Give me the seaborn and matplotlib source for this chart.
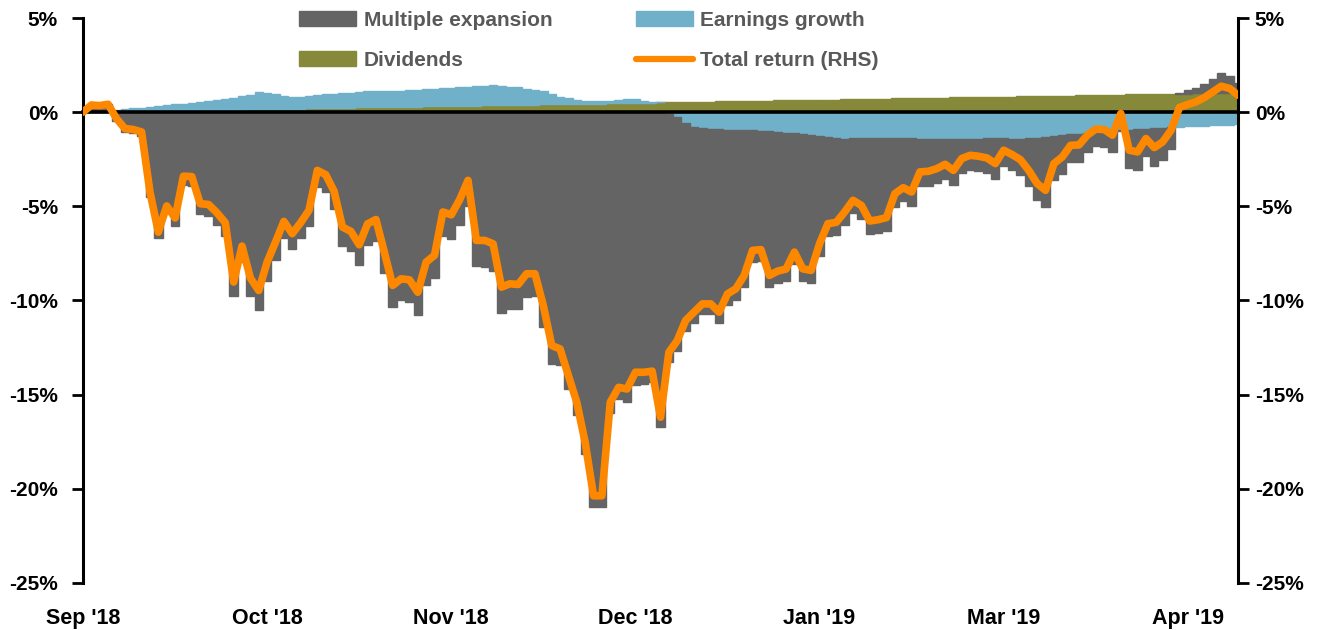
import numpy as np
import matplotlib
matplotlib.use("Agg")
import matplotlib.pyplot as plt
import seaborn as sns
from matplotlib.patches import Patch
from matplotlib.lines import Line2D

# total return, % (one value per trading day)
total_return = [
    0.00, 0.38, 0.35, 0.42, -0.34, -0.87, -0.92, -1.05, -4.24, -6.37,
    -4.98, -5.62, -3.40, -3.42, -4.86, -4.90, -5.34, -5.87, -9.02, -7.11,
    -8.81, -9.47, -7.96, -6.90, -5.80, -6.45, -5.87, -5.21, -3.09, -3.32,
    -4.20, -6.10, -6.33, -7.04, -5.93, -5.70, -7.43, -9.20, -8.85, -8.90,
    -9.56, -7.96, -7.60, -5.30, -5.45, -4.65, -3.62, -6.81, -6.81, -6.99,
    -9.29, -9.11, -9.15, -8.58, -8.58, -10.27, -12.39, -12.57, -13.99, -15.41,
    -17.54, -20.37, -20.37, -15.40, -14.61, -14.70, -13.81, -13.81, -13.75, -16.20,
    -12.75, -12.13, -11.06, -10.62, -10.18, -10.18, -10.62, -9.65, -9.38, -8.67,
    -7.34, -7.30, -8.67, -8.44, -8.33, -7.43, -8.32, -8.40, -6.99, -5.92,
    -5.85, -5.30, -4.68, -4.95, -5.78, -5.71, -5.60, -4.33, -4.01, -4.24,
    -3.17, -3.14, -3.00, -2.77, -3.09, -2.46, -2.29, -2.34, -2.43, -2.73,
    -2.02, -2.25, -2.52, -3.09, -3.79, -4.15, -2.73, -2.38, -1.76, -1.74,
    -1.22, -0.90, -0.92, -1.22, -0.07, -2.02, -2.11, -1.40, -1.88, -1.58,
    -0.96, 0.25, 0.41, 0.55, 0.78, 1.08, 1.38, 1.26, 0.90,
]

earnings_growth = [
    0.00, 0.00, 0.00, 0.05, 0.10, 0.13, 0.16, 0.19, 0.22, 0.26,
    0.30, 0.33, 0.36, 0.40, 0.44, 0.48, 0.52, 0.58, 0.63, 0.70,
    0.78, 0.89, 0.86, 0.80, 0.70, 0.63, 0.64, 0.66, 0.68, 0.72,
    0.74, 0.77, 0.80, 0.84, 0.87, 0.86, 0.85, 0.85, 0.86, 0.87,
    0.89, 0.90, 0.92, 0.94, 0.96, 0.98, 1.00, 1.02, 1.04, 1.05,
    1.02, 0.98, 0.92, 0.85, 0.78, 0.74, 0.55, 0.40, 0.30, 0.22,
    0.14, 0.12, 0.12, 0.13, 0.16, 0.19, 0.20, 0.10, 0.05, 0.00,
    -0.12, -0.28, -0.60, -0.80, -0.86, -0.90, -0.92, -0.94, -0.95, -0.96,
    -0.97, -0.99, -1.01, -1.05, -1.08, -1.13, -1.18, -1.22, -1.26, -1.31,
    -1.38, -1.40, -1.39, -1.37, -1.36, -1.35, -1.35, -1.36, -1.38, -1.39,
    -1.40, -1.41, -1.42, -1.44, -1.45, -1.44, -1.42, -1.40, -1.38, -1.36,
    -1.35, -1.40, -1.40, -1.38, -1.35, -1.30, -1.26, -1.22, -1.18, -1.15,
    -1.12, -1.08, -1.03, -0.98, -0.96, -0.93, -0.90, -0.88, -0.86, -0.83,
    -0.80, -0.78, -0.76, -0.74, -0.72, -0.70, -0.68, -0.66, -0.64,
]

dividends = [
    0.00, 0.01, 0.01, 0.02, 0.03, 0.04, 0.04, 0.05, 0.06, 0.07,
    0.07, 0.08, 0.09, 0.10, 0.10, 0.11, 0.12, 0.13, 0.13, 0.14,
    0.15, 0.16, 0.16, 0.17, 0.18, 0.19, 0.19, 0.20, 0.21, 0.22,
    0.22, 0.23, 0.24, 0.25, 0.25, 0.26, 0.27, 0.28, 0.28, 0.29,
    0.30, 0.31, 0.31, 0.32, 0.33, 0.34, 0.34, 0.35, 0.36, 0.37,
    0.37, 0.38, 0.39, 0.40, 0.40, 0.41, 0.42, 0.43, 0.43, 0.44,
    0.45, 0.46, 0.46, 0.47, 0.48, 0.49, 0.49, 0.50, 0.51, 0.52,
    0.52, 0.53, 0.54, 0.55, 0.55, 0.56, 0.57, 0.58, 0.58, 0.59,
    0.60, 0.61, 0.61, 0.62, 0.63, 0.64, 0.64, 0.65, 0.66, 0.67,
    0.67, 0.68, 0.69, 0.70, 0.70, 0.71, 0.72, 0.73, 0.73, 0.74,
    0.75, 0.76, 0.76, 0.77, 0.78, 0.79, 0.79, 0.80, 0.81, 0.82,
    0.82, 0.83, 0.84, 0.85, 0.85, 0.86, 0.87, 0.88, 0.88, 0.89,
    0.90, 0.91, 0.91, 0.92, 0.93, 0.94, 0.94, 0.95, 0.96, 0.97,
    0.97, 0.98, 0.99, 1.00, 1.00, 1.01, 1.02, 1.03, 1.03,
]

tick_labels = ["Sep '18", "Oct '18", "Nov '18", "Dec '18", "Jan '19", "Mar '19", "Apr '19"]
ytick_values = [-25, -20, -15, -10, -5, 0, 5]
ytick_labels = ["-25%", "-20%", "-15%", "-10%", "-5%", "0%", "5%"]

c_mult = "#646464"
c_earn = "#70b1c9"
c_div = "#86883a"
c_total = "#fe8700"

sns.set_style("white")
plt.rcParams["font.family"] = ["Liberation Sans", "DejaVu Sans"]

total = np.array(total_return)
earn = np.array(earnings_growth)
div = np.array(dividends)
mult = total - earn - div  # residual: multiple expansion
x = np.arange(len(total))

fig = plt.figure(figsize=(13.35, 6.3), dpi=100)
ax = fig.add_axes([83 / 1335, 1 - 583 / 630, (1238 - 83) / 1335, (583 - 18) / 630])

# stacked bars, positives up from 0 and negatives down from 0
pos = np.zeros(len(x))
neg = np.zeros(len(x))
for vals, col in [(div, c_div), (earn, c_earn), (mult, c_mult)]:
    bottom = np.where(vals >= 0, pos, neg)
    ax.bar(x, vals, bottom=bottom, width=1.0, color=col, edgecolor=col, linewidth=1.0, zorder=1)
    pos += np.clip(vals, 0, None)
    neg += np.clip(vals, None, 0)

ax.set_xlim(0, len(x) - 1)
ax.set_ylim(-25, 5)
ax.set_yticks(ytick_values, ytick_labels)
ax.set_xticks(x[::22], tick_labels)

for s in ["top", "right"]:
    ax.spines[s].set_visible(False)
ax.spines["bottom"].set_position(("data", 0))
ax.spines["bottom"].set_linewidth(2.6)
ax.spines["bottom"].set_zorder(3)
ax.spines["left"].set_linewidth(2.2)
for s in ax.spines.values():
    s.set_color("black")

ax.tick_params(axis="x", direction="out", length=7, width=2, pad=350,
               labelsize=15.5, colors="black")
ax.tick_params(axis="y", direction="out", length=8, width=2, pad=10,
               labelsize=15, colors="black")
for lab in ax.get_xticklabels() + ax.get_yticklabels():
    lab.set_fontweight("bold")

# total return on the right-hand axis
ax2 = ax.twinx()
sns.lineplot(x=x, y=total, ax=ax2, color=c_total, linewidth=5.5, zorder=5)
ax2.set_ylim(-25, 5)
ax2.set_xlim(0, len(x) - 1)
ax2.set_yticks(ytick_values, ytick_labels)
for s in ["top", "left", "bottom"]:
    ax2.spines[s].set_visible(False)
ax2.spines["right"].set_linewidth(2.2)
ax2.spines["right"].set_color("black")
ax2.tick_params(axis="y", direction="out", length=8, width=2, pad=4,
                labelsize=15, colors="black")
for lab in ax2.get_yticklabels():
    lab.set_fontweight("bold")

handles = [
    Patch(color=c_mult, label="Multiple expansion"),
    Patch(color=c_div, label="Dividends"),
    Patch(color=c_earn, label="Earnings growth"),
    Line2D([], [], color=c_total, linewidth=4.5, label="Total return (RHS)"),
]
leg = ax2.legend(handles=handles, ncol=2, loc="upper left",
                 bbox_to_anchor=(299 / 1335, 1 - 11 / 630), bbox_transform=fig.transFigure,
                 frameon=False, borderaxespad=0, borderpad=0, fontsize=15,
                 handlelength=2.75, handleheight=0.7, handletextpad=0.35,
                 labelspacing=1.0, columnspacing=4.0)
for t in leg.get_texts():
    t.set_color("#595959")
    t.set_fontweight("bold")

fig.savefig("out.png", dpi=100)
